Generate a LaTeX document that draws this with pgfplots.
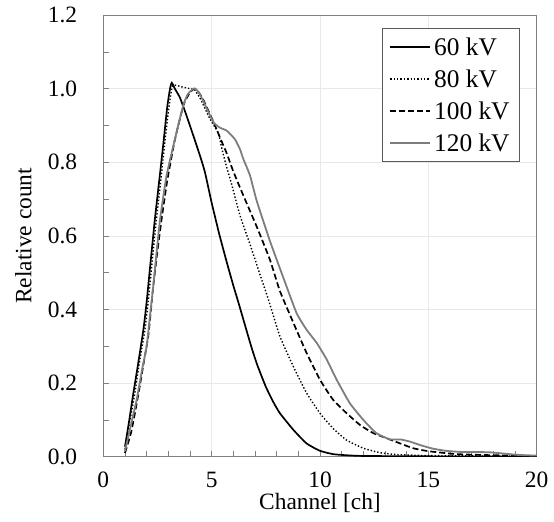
\documentclass[border=0pt]{standalone}
\usepackage{fontspec}
\setmainfont{Liberation Serif}
\usepackage{pgfplots}
\pgfplotsset{compat=1.18}

\definecolor{frame}{RGB}{128,128,128}
\definecolor{kv120}{RGB}{125,125,125}
\definecolor{gridc}{RGB}{232,232,232}

\begin{document}
\begin{tikzpicture}
\begin{axis}[
    scale only axis,
    width=433.4bp, height=441.7bp,
    xmin=0, xmax=20, ymin=0, ymax=1.2,
    xtick={0,5,...,20}, minor x tick num=4,
    ytick={0,0.2,...,1.2}, minor y tick num=1,
    tick pos=left, tick align=inside,
    major tick length=6bp, minor tick length=6bp,
    every tick/.style={frame, line width=0.6pt},
    axis line style={frame, line width=0.8pt},
    grid=major, major grid style={gridc, line width=0.6pt},
    font=\fontsize{23.5}{28}\selectfont,
    tick label style={font=\fontsize{23.5}{28}\selectfont},
    /pgf/number format/assume math mode=true,
    yticklabel style={/pgf/number format/fixed, /pgf/number format/fixed zerofill, /pgf/number format/precision=1},
    yticklabel style={inner sep=0pt, xshift=-26bp},
    xticklabel style={inner sep=0pt, yshift=-15.3bp},
    xlabel={Channel [ch]},
    ylabel={Relative count},
    every axis x label/.style={at={(axis description cs:0.5,0)}, anchor=north, inner sep=0pt, yshift=-36bp},
    every axis y label/.style={at={(axis description cs:0,0.5)}, xshift=-88.3bp, rotate=90, anchor=north, inner sep=0pt},
    legend style={at={(0.9615,0.9706)}, anchor=north east, draw={rgb,255:red,90;green,90;blue,90}, line width=0.8pt,
        font=\fontsize{25.5}{28}\selectfont, inner xsep=7bp, inner ysep=8bp, row sep=11bp,
        nodes={inner xsep=3bp, inner ysep=1bp}},
    legend cell align=left,
    legend image code/.code={\draw[#1] (0bp,0bp) -- (40bp,0bp);},
]
\addplot[black, line width=1.7pt, smooth, tension=0.3] coordinates {
(1,0.027)(1.2,0.10)(1.38,0.17)(1.6,0.25)(1.85,0.345)(2.0,0.42)(2.15,0.51)(2.38,0.645)(2.6,0.76)(2.77,0.85)(2.95,0.95)(3.08,1.0)(3.16,1.016)(3.3,1.0)(3.54,0.975)(3.85,0.925)(4.15,0.873)(4.46,0.818)(4.69,0.773)(5.0,0.69)(5.35,0.605)(5.69,0.53)(6.0,0.465)(6.23,0.42)(6.6,0.345)(6.85,0.295)(7.1,0.25)(7.5,0.19)(7.85,0.148)(8.15,0.118)(8.77,0.073)(9.38,0.036)(10,0.016)(10.6,0.007)(11.2,0.004)(12,0.002)(15,0.001)(20,0.0)
};
\addlegendentry{60 kV}
\addplot[black, line width=1.4pt, dotted, smooth, tension=0.3] coordinates {
(1,0.02)(1.2,0.09)(1.45,0.17)(1.65,0.25)(1.92,0.345)(2.07,0.42)(2.22,0.51)(2.45,0.645)(2.67,0.76)(2.85,0.86)(3.03,0.95)(3.16,1.0)(3.25,1.01)(3.6,1.005)(4.0,1.0)(4.2,0.998)(4.5,0.97)(4.92,0.918)(5.3,0.88)(5.5,0.83)(5.7,0.785)(5.9,0.745)(6.31,0.655)(6.77,0.577)(7.23,0.495)(7.62,0.427)(8.15,0.327)(8.77,0.245)(9.38,0.173)(10,0.118)(10.6,0.077)(11.23,0.045)(12.0,0.023)(12.77,0.011)(13.5,0.006)(15,0.003)(20,0.001)
};
\addlegendentry{80 kV}
\addplot[black, line width=1.7pt, dash pattern=on 6bp off 3bp, smooth, tension=0.3] coordinates {
(1,0.01)(1.3,0.07)(1.62,0.17)(1.85,0.25)(2.08,0.33)(2.3,0.46)(2.5,0.56)(2.69,0.645)(2.95,0.75)(3.3,0.86)(3.7,0.955)(4.0,0.99)(4.23,1.0)(4.4,0.99)(4.61,0.97)(5.08,0.91)(5.4,0.865)(5.69,0.825)(6.0,0.775)(6.46,0.71)(7.08,0.625)(7.69,0.535)(8.15,0.45)(8.77,0.364)(9.38,0.282)(10,0.209)(10.6,0.155)(11.23,0.118)(11.85,0.086)(12.46,0.064)(13.08,0.05)(13.7,0.036)(14.3,0.023)(15,0.015)(16.3,0.007)(18,0.004)(20,0.002)
};
\addlegendentry{100 kV}
\addplot[kv120, line width=1.8pt, smooth, tension=0.3] coordinates {
(1,0.015)(1.25,0.08)(1.54,0.155)(1.8,0.24)(2.0,0.30)(2.15,0.38)(2.3,0.46)(2.45,0.55)(2.62,0.645)(2.92,0.764)(3.31,0.864)(3.69,0.955)(3.9,0.985)(4.15,1.0)(4.3,0.997)(4.46,0.985)(4.7,0.955)(5.08,0.909)(5.35,0.895)(5.69,0.886)(5.85,0.877)(6.08,0.862)(6.31,0.835)(6.46,0.809)(6.77,0.764)(7.08,0.695)(7.69,0.586)(8.31,0.486)(8.92,0.39)(9.38,0.345)(9.85,0.309)(10.31,0.264)(10.77,0.209)(11.38,0.145)(12.0,0.1)(12.6,0.064)(13.23,0.047)(13.7,0.047)(14.15,0.041)(14.6,0.032)(15.2,0.022)(15.8,0.016)(16.5,0.013)(17.8,0.012)(19.1,0.005)(20,0.003)
};
\addlegendentry{120 kV}
\end{axis}
\pgfresetboundingbox
\path ([xshift=-103.3bp,yshift=-65.3bp]current axis.south west) rectangle ([xshift=17.3bp,yshift=15bp]current axis.north east);
\end{tikzpicture}
\end{document}
